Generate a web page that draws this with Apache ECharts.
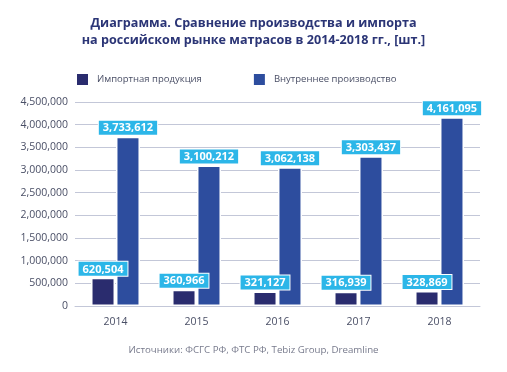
<!DOCTYPE html>
<html><head><meta charset="utf-8">
<script src="https://cdn.jsdelivr.net/npm/echarts@6/dist/echarts.min.js"></script>
<style>html,body{margin:0;padding:0;background:#fff}#c{width:507px;height:372px}</style>
</head><body><div id="c"></div>
<script>
const years = ['2014','2015','2016','2017','2018'];
const importValues = [620504, 360966, 321127, 316939, 328869];
const domesticValues = [3733612, 3100212, 3062138, 3303437, 4161095];
const seriesNames = ['Импортная продукция', 'Внутреннее производство'];
const titleLines = ['Диаграмма. Сравнение производства и импорта', 'на российском рынке матрасов в 2014-2018 гг., [шт.]'];
const sourceText = 'Источники: ФСГС РФ, ФТС РФ, Tebiz Group, Dreamline';

const fmt = v => v.toLocaleString('en-US');
const FONT = '"Open Sans", sans-serif';
const labelCfg = {
  show: true, position: 'top', distance: 2,
  formatter: p => fmt(p.value),
  color: '#fff', fontWeight: 'bold', fontSize: 11, fontFamily: FONT,
  backgroundColor: '#2cb6e8', padding: [2, 4, 1, 4],
  borderColor: '#fff', borderWidth: 1
};
const titleStyle = {fontSize: 12.6, fontWeight: 'bold', color: '#2b3576', fontFamily: FONT};
const chart = echarts.init(document.getElementById('c'), null, {renderer: 'canvas'});
chart.setOption({
  backgroundColor: '#fff',
  animation: false,
  textStyle: {fontFamily: FONT},
  title: [{
    text: titleLines[0], left: 'center', top: 17, padding: 0, textStyle: titleStyle
  }, {
    text: titleLines[1], left: 'center', top: 34, padding: 0, textStyle: titleStyle
  }, {
    text: sourceText, left: 'center', top: 345, padding: 0,
    textStyle: {fontSize: 9.7, fontWeight: 'normal', color: '#777a8c', fontFamily: FONT}
  }],
  legend: {
    left: 72, top: 69, itemWidth: 11, itemHeight: 11, itemGap: 52, icon: 'rect',
    itemStyle: {borderWidth: 0},
    textStyle: {fontSize: 9.5, color: '#4a4f66', padding: [0, 0, 0, 4], fontFamily: FONT},
    data: seriesNames
  },
  grid: {left: 75, right: 27, top: 102, bottom: 66},
  xAxis: {
    type: 'category', data: years,
    axisLine: {show: true, lineStyle: {color: '#c3c7d8', width: 1}},
    axisTick: {show: false},
    axisLabel: {color: '#4a4f66', fontSize: 10.5, margin: 11}
  },
  yAxis: {
    type: 'value', min: 0, max: 4500000, interval: 500000,
    axisLine: {show: false}, axisTick: {show: false},
    splitLine: {lineStyle: {color: '#c3c7d8', width: 1}},
    axisLabel: {color: '#4a4f66', fontSize: 10.5, margin: 7, formatter: v => fmt(v)}
  },
  series: [{
    name: seriesNames[0], type: 'bar', data: importValues,
    barWidth: 24, barGap: '4%',
    itemStyle: {color: '#2a2c6e', borderColor: '#fff', borderWidth: 1.5},
    label: labelCfg
  }, {
    name: seriesNames[1], type: 'bar', data: domesticValues,
    barWidth: 24,
    itemStyle: {color: '#2d4d9e', borderColor: '#fff', borderWidth: 1.5},
    label: labelCfg
  }]
});
</script></body></html>
